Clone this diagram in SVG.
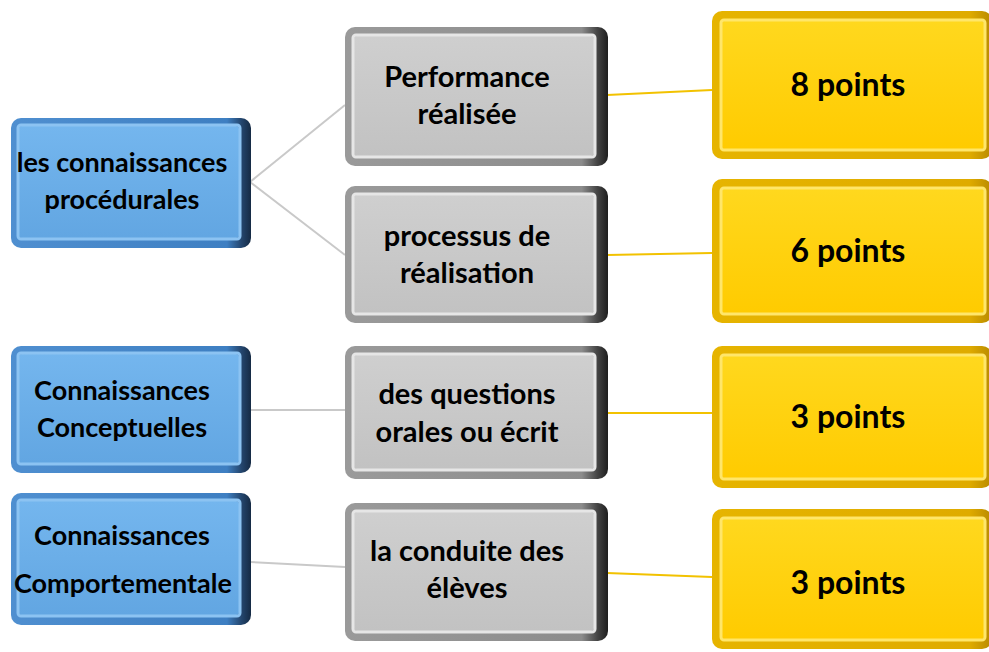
<svg xmlns="http://www.w3.org/2000/svg" width="989" height="652" viewBox="0 0 989 652">
<style>
text{font-family:Lato,"Open Sans","Liberation Sans",sans-serif;font-weight:bold;font-size:27px;fill:#000;text-anchor:middle}
.tg{font-size:29px}
.ty{font-size:32px}
.gl{stroke:#c9c9c9;stroke-width:2;fill:none}
.yl{stroke:#f2c200;stroke-width:2;fill:none}
.bo{fill:url(#bOut)}.bf{fill:url(#bFace)}.bb{fill:none;stroke:#8cc3f2;stroke-width:3}
.go{fill:url(#gOut)}.gf{fill:url(#gFace)}.gb{fill:none;stroke:#e6e6e6;stroke-width:3}
.yo{fill:url(#yOut)}.yf{fill:url(#yFace)}.yb{fill:none;stroke:#ffe66a;stroke-width:3}
</style>
<defs>
<linearGradient id="bOut" x1="0" y1="0" x2="1" y2="0"><stop offset="0" stop-color="#4f8fd0"/><stop offset="0.9" stop-color="#3e7fc2"/><stop offset="0.96" stop-color="#24466e"/><stop offset="1" stop-color="#152a44"/></linearGradient>
<linearGradient id="bFace" x1="0" y1="0" x2="0" y2="1"><stop offset="0" stop-color="#74b6ee"/><stop offset="1" stop-color="#62a6e2"/></linearGradient>
<linearGradient id="gOut" x1="0" y1="0" x2="1" y2="0"><stop offset="0" stop-color="#9a9a9a"/><stop offset="0.9" stop-color="#8c8c8c"/><stop offset="0.96" stop-color="#444"/><stop offset="1" stop-color="#1e1e1e"/></linearGradient>
<linearGradient id="gFace" x1="0" y1="0" x2="0" y2="1"><stop offset="0" stop-color="#cfcfcf"/><stop offset="1" stop-color="#c2c2c2"/></linearGradient>
<linearGradient id="yOut" x1="0" y1="0" x2="1" y2="0"><stop offset="0" stop-color="#e6b400"/><stop offset="0.92" stop-color="#dfab00"/><stop offset="1" stop-color="#b88a00"/></linearGradient>
<linearGradient id="yFace" x1="0" y1="0" x2="0" y2="1"><stop offset="0" stop-color="#ffd81e"/><stop offset="1" stop-color="#ffcb00"/></linearGradient>
</defs>
<g id="connectors">
<path class="gl" d="M250 182 L345 105"/>
<path class="gl" d="M250 182 L345 255"/>
<path class="gl" d="M250 410 L345 410"/>
<path class="gl" d="M250 562 L345 567"/>
<path class="yl" d="M607 95 L712 90"/>
<path class="yl" d="M607 255 L712 253"/>
<path class="yl" d="M607 413 L712 413"/>
<path class="yl" d="M607 573 L712 577"/>
</g>
<g id="proc">
<rect class="bo" x="11" y="118" width="240" height="130" rx="10"/>
<rect class="bf" x="19" y="126" width="220" height="112" rx="3"/>
<rect class="bb" x="18" y="125" width="222" height="114" rx="3"/>
<text x="122" y="172">les connaissances</text>
<text x="122" y="209">procédurales</text>
</g>
<g id="concept">
<rect class="bo" x="11" y="346" width="240" height="127" rx="10"/>
<rect class="bf" x="19" y="354" width="220" height="109" rx="3"/>
<rect class="bb" x="18" y="353" width="222" height="111" rx="3"/>
<text x="122" y="400">Connaissances</text>
<text x="122" y="437">Conceptuelles</text>
</g>
<g id="comport">
<rect class="bo" x="11" y="493" width="240" height="132" rx="10"/>
<rect class="bf" x="19" y="501" width="220" height="114" rx="3"/>
<rect class="bb" x="18" y="500" width="222" height="116" rx="3"/>
<text x="122" y="545">Connaissances</text>
<text x="123" y="593">Comportementale</text>
</g>
<g id="perf">
<rect class="go" x="345" y="27" width="263" height="139" rx="10"/>
<rect class="gf" x="354" y="36" width="240" height="120" rx="3"/>
<rect class="gb" x="353" y="35" width="242" height="122" rx="3"/>
<text class="tg" x="467" y="87">Performance</text>
<text class="tg" x="467" y="124">réalisée</text>
</g>
<g id="process">
<rect class="go" x="345" y="186" width="263" height="137" rx="10"/>
<rect class="gf" x="354" y="195" width="240" height="118" rx="3"/>
<rect class="gb" x="353" y="194" width="242" height="120" rx="3"/>
<text class="tg" x="467" y="246">processus de</text>
<text class="tg" x="467" y="283">réalisation</text>
</g>
<g id="questions">
<rect class="go" x="345" y="346" width="263" height="133" rx="10"/>
<rect class="gf" x="354" y="355" width="240" height="114" rx="3"/>
<rect class="gb" x="353" y="354" width="242" height="116" rx="3"/>
<text class="tg" x="467" y="404">des questions</text>
<text class="tg" x="467" y="442">orales ou écrit</text>
</g>
<g id="conduite">
<rect class="go" x="345" y="503" width="263" height="138" rx="10"/>
<rect class="gf" x="354" y="512" width="240" height="119" rx="3"/>
<rect class="gb" x="353" y="511" width="242" height="121" rx="3"/>
<text class="tg" x="467" y="561">la conduite des</text>
<text class="tg" x="467" y="598">élèves</text>
</g>
<g id="p8">
<rect class="yo" x="712" y="11" width="280" height="148" rx="10"/>
<rect class="yf" x="722" y="21" width="262" height="128" rx="3"/>
<rect class="yb" x="721" y="20" width="264" height="130" rx="3"/>
<text class="ty" x="848" y="96">8 points</text>
</g>
<g id="p6">
<rect class="yo" x="712" y="179" width="280" height="144" rx="10"/>
<rect class="yf" x="722" y="189" width="262" height="124" rx="3"/>
<rect class="yb" x="721" y="188" width="264" height="126" rx="3"/>
<text class="ty" x="848" y="262">6 points</text>
</g>
<g id="p3a">
<rect class="yo" x="712" y="346" width="280" height="142" rx="10"/>
<rect class="yf" x="722" y="356" width="262" height="122" rx="3"/>
<rect class="yb" x="721" y="355" width="264" height="124" rx="3"/>
<text class="ty" x="848" y="428">3 points</text>
</g>
<g id="p3b">
<rect class="yo" x="712" y="509" width="280" height="140" rx="10"/>
<rect class="yf" x="722" y="519" width="262" height="120" rx="3"/>
<rect class="yb" x="721" y="518" width="264" height="122" rx="3"/>
<text class="ty" x="848" y="594">3 points</text>
</g>
</svg>
